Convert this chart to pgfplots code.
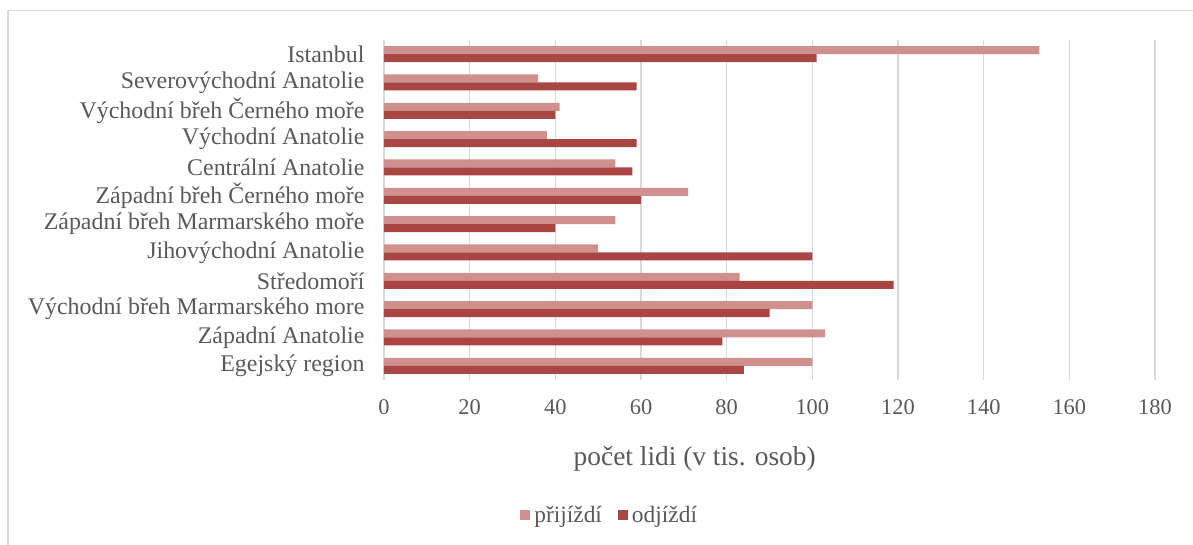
\documentclass[border=0pt]{standalone}
\usepackage{pgfplots}
\pgfplotsset{compat=1.18}
\usepackage{fontspec}
\setmainfont{Liberation Serif}
\definecolor{prij}{RGB}{208,144,142}
\definecolor{odj}{RGB}{169,69,67}
\definecolor{txt}{RGB}{89,89,89}
\definecolor{grd}{RGB}{217,217,217}
\begin{document}
\begin{tikzpicture}
\useasboundingbox (0bp,0bp) rectangle (1193bp,545bp);
\draw[grd, line width=1.5bp] (8bp,0bp) -- (8bp,534.5bp) -- (1193bp,534.5bp);
\begin{axis}[
  at={(384bp,165bp)}, anchor=south west,
  scale only axis, width=771bp, height=340bp,
  xmin=0, xmax=180, ymin=-0.5, ymax=11.5,
  xtick={0,20,...,180}, ytick={0,...,11},
  yticklabels={Egejský region, Západní Anatolie, Východní břeh Marmarského more, Středomoří, Jihovýchodní Anatolie, Západní břeh Marmarského moře, Západní břeh Černého moře, Centrální Anatolie, Východní Anatolie, Východní břeh Černého moře, Severovýchodní Anatolie, Istanbul},
  axis line style={draw=none}, major tick length=0,
  xmajorgrids, grid style={grd, line width=1.5bp},
  /pgf/number format/assume math mode=true,
  x tick label style={font=\fontsize{22.5}{24}\selectfont, text=txt, yshift=-16bp},
  y tick label style={font=\fontsize{24}{26}\selectfont, text=txt, xshift=-16bp},
  xlabel={počet lidi (v tis. osob)},
  xlabel style={font=\fontsize{27.5}{30}\selectfont, text=txt, at={(axis description cs:0.403,-0.232)}, anchor=center},
  legend columns=2,
  legend style={draw=none, at={(0.294,-0.397)}, anchor=center, font=\fontsize{23.5}{25}\selectfont, text=txt,
    nodes={inner xsep=4bp},
    /tikz/every even column/.append style={column sep=12bp}},
  legend image code/.code={\fill[#1] (0bp,-5bp) rectangle (10bp,5bp);},
]
\addplot[xbar, bar width=8bp, bar shift=4bp, fill=prij, draw=none] coordinates {
  (100,0) (103,1) (100,2) (83,3) (50,4) (54,5) (71,6) (54,7) (38,8) (41,9) (36,10) (153,11)
};
\addlegendentry{přijíždí}
\addplot[xbar, bar width=8bp, bar shift=-4bp, fill=odj, draw=none] coordinates {
  (84,0) (79,1) (90,2) (119,3) (100,4) (40,5) (60,6) (58,7) (59,8) (40,9) (59,10) (101,11)
};
\addlegendentry{odjíždí}
\end{axis}
\end{tikzpicture}
\end{document}
